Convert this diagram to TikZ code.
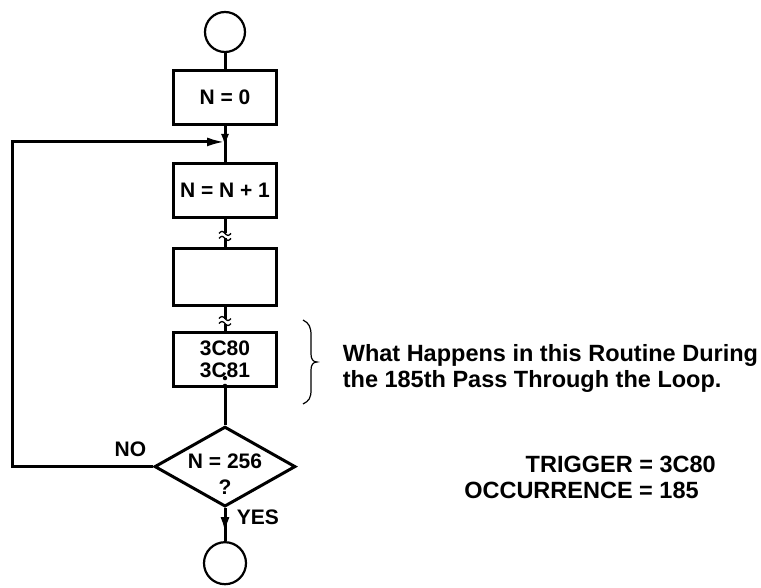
\documentclass[tikz,border=0pt]{standalone}
\usepackage{fontspec}
\setmainfont{Liberation Sans}
\usepackage{tikz}
\usetikzlibrary{arrows.meta, positioning, shapes.geometric, calc}

\begin{document}
\begin{tikzpicture}[x=1pt, y=1pt, line width=3pt,
    every node/.style={font=\bfseries\fontsize{21}{22}\selectfont},
    procbox/.style={rectangle, draw, minimum width=103pt, minimum height=54pt, align=center},
    term/.style={circle, draw, line width=2.2pt, minimum size=40pt, inner sep=0pt}]
    \useasboundingbox (0,0) rectangle (761,-588);
            \node[term] (start) at (225,-32) {};
            \node[procbox, below=16pt of start] (init) {N = 0};
            \node[procbox, below=36pt of init] (incr) {N = N + 1};
            \node[procbox, below=28pt of incr, minimum height=57pt] (body) {};
            \node[procbox, below=24pt of body] (trig) {3C80\\3C81};
            \node[diamond, draw, aspect=1.73, minimum width=141pt, minimum height=80pt,
                  inner sep=0pt, below=37pt of trig] (test) {};
            \node[align=center] (testq) at ($(test.center)+(0,-8)$) {N = 256\\[4pt]?};
            \node[term, minimum size=42pt, below=33pt of test] (stop) {};
            % main flow
            \draw (start) -- (init);
            \draw (init) -- (incr);
            \draw (incr) -- (body);
            \draw (body) -- (trig);
            \draw (trig) -- (test);
            \draw (test) -- (stop);
            \coordinate (join) at ($(init.south)!0.44!(incr.north)$);
            \draw[-{Latex[length=13pt,width=8pt]}] (init.south) -- ($(join)+(0,-5)$);
            \draw[-{Latex[length=16pt,width=9pt]}] (test.south) -- ++(0,-25);
            % loop back
            \draw[-{Latex[length=18pt,width=9pt]}] (test.west) -- ++(-141,0) |- (join);
            \node[above left=5pt and 2pt of test.west] (no) {NO};
            \node[below right=-3pt and 7pt of test.south] (yes) {YES};
            % breaks in the line
            \coordinate (brk1) at ($(incr.south)!0.6!(body.north)$);
            \coordinate (brk2) at ($(body.south)!0.58!(trig.north)$);
            \foreach \b in {brk1, brk2} {
                \begin{scope}[shift={(\b)}]
                    \fill[white] (-7,-2.5) rectangle (7,2.5);
                    \draw[line width=1.3pt] (-6,2.5) sin (-3,4.5) cos (0,2.5) sin (3,0.5) cos (6,2.5);
                    \draw[line width=1.3pt] (-6,-2.5) sin (-3,-0.5) cos (0,-2.5) sin (3,-4.5) cos (6,-2.5);
                \end{scope}
            }
            % dots under 3C81
            \fill ($(trig.south)+(0,10)$) circle (2.2pt);
            \fill ($(trig.south)+(0,2)$) circle (2.4pt);
            % brace and note
            \draw[line width=1.2pt] (303,-320) .. controls (309,-323) and (311,-327) .. (311,-335)
                -- (311,-354) .. controls (311,-359) and (313,-362) .. (317,-362)
                .. controls (313,-362) and (311,-365) .. (311,-370)
                -- (311,-390) .. controls (311,-398) and (309,-401) .. (303,-404);
            \node[anchor=west, align=left, font=\bfseries\fontsize{23.5}{26}\selectfont] (note) at (338,-368)
                {What Happens in this Routine During\\the 185th Pass Through the Loop.};
            \node[font=\bfseries\fontsize{23.5}{26}\selectfont] (setup) at (590,-480)
                {\begin{tabular}{@{}r@{}l@{}}TRIGGER & {} = 3C80\\OCCURRENCE & {} = 185\end{tabular}};
        \end{tikzpicture}
\end{document}
